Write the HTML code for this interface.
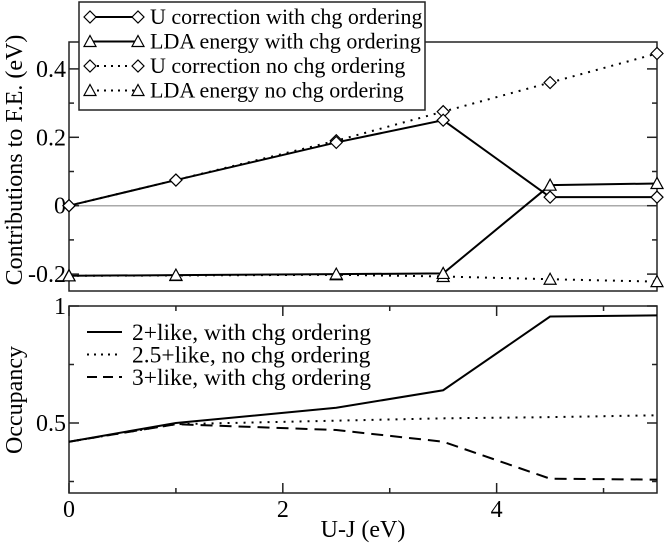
<!DOCTYPE html>
<html><head><meta charset="utf-8"><style>
html,body{margin:0;padding:0;background:#fff}
svg{display:block;font-family:"Liberation Serif",serif}
</style></head><body>
<svg id="chart" width="664" height="544" viewBox="0 0 664 544"></svg>
<script>
const xVals=[0,1,2.5,3.5,4.5,5.5];
const uChg=[0,0.075,0.185,0.25,0.025,0.025];
const ldaChg=[-0.205,-0.203,-0.2,-0.198,0.06,0.065];
const uNo=[0,0.075,0.19,0.275,0.36,0.445];
const ldaNo=[-0.205,-0.204,-0.202,-0.207,-0.215,-0.222];
const occ2=[0.42,0.5,0.565,0.64,0.955,0.96];
const occ25=[0.42,0.495,0.51,0.52,0.525,0.533];
const occ3=[0.42,0.495,0.47,0.42,0.262,0.258];
const xTicks=[0,2,4];
const topTicks=[-0.2,0,0.2,0.4];
const botTicks=[0.5,1];

const NS="http://www.w3.org/2000/svg";
const svg=document.getElementById('chart');
function mk(tag,attrs,parent){const e=document.createElementNS(NS,tag);for(const k in attrs)e.setAttribute(k,attrs[k]);(parent||svg).appendChild(e);return e;}
const L=69,R=657;
const xs=v=>L+(R-L)*v/5.5;
const T0=42,T1=291; const ys1=v=>205.7-v*342;
const B0=306,B1=493; const ys2=v=>306+(1-v)*234;

let z=mk('line',{x1:L,x2:R,y1:ys1(0),y2:ys1(0),stroke:'#aaa','stroke-width':1.5});


function axes(top,bot,ys,majors,minors,name,xt){
  const r=mk('rect',{x:L,y:top,width:R-L,height:bot-top,fill:'none',stroke:'#222','stroke-width':1.5});
  
  majors.forEach(v=>{const y=ys(v);mk('line',{x1:L,x2:L+10,y1:y,y2:y,stroke:'#222','stroke-width':1.5});mk('line',{x1:R,x2:R-10,y1:y,y2:y,stroke:'#222','stroke-width':1.5});
    const t=mk('text',{x:L-3,y:y+8,'text-anchor':'end','font-size':24});t.textContent=String(v);
    });
  minors.forEach(v=>{const y=ys(v);mk('line',{x1:L,x2:L+5,y1:y,y2:y,stroke:'#222','stroke-width':1.5});mk('line',{x1:R,x2:R-5,y1:y,y2:y,stroke:'#222','stroke-width':1.5});});
  if(xt){[0,1,2,3,4,5].forEach(v=>{const x=xs(v),len=v%2?5:10;mk('line',{x1:x,x2:x,y1:bot,y2:bot-len,stroke:'#222','stroke-width':1.5});mk('line',{x1:x,x2:x,y1:top,y2:top+len,stroke:'#222','stroke-width':1.5});});}
}
axes(T0,T1,ys1,topTicks,[-0.1,0.1,0.3],'top-panel',false);
axes(B0,B1,ys2,botTicks,[0.25,0.75],'bottom-panel',true);
xTicks.forEach(v=>{const t=mk('text',{x:xs(v),y:517,'text-anchor':'middle','font-size':24});t.textContent=v;
  });

function line(vals,ys,dash,name){
  const p=mk('polyline',{points:vals.map((v,i)=>xs(xVals[i])+','+ys(v)).join(' '),fill:'none',stroke:'#000','stroke-width':2,'stroke-dasharray':dash||'none'});
  
}
function diamond(x,y,g){mk('path',{d:`M${x-6},${y} L${x},${y-6} L${x+6},${y} L${x},${y+6} Z`,fill:'#fff',stroke:'#000','stroke-width':1.2},g);}
function tri(x,y,g){mk('path',{d:`M${x},${y-6} L${x+6},${y+5} L${x-6},${y+5} Z`,fill:'#fff',stroke:'#000','stroke-width':1.2},g);}
function markers(vals,fn,name){const g=mk('g',{});vals.forEach((v,i)=>fn(xs(xVals[i]),ys1(v),g));}
line(uNo,ys1,'2,6','u-correction-no-chg');
line(ldaNo,ys1,'2,6','lda-energy-no-chg');
line(uChg,ys1,null,'u-correction-chg');
line(ldaChg,ys1,null,'lda-energy-chg');
markers(uNo,diamond,'u-no-markers');markers(ldaNo,tri,'lda-no-markers');
markers(uChg,diamond,'u-chg-markers');markers(ldaChg,tri,'lda-chg-markers');

line(occ25,ys2,'2,6','occ-2.5-like');
line(occ3,ys2,'12,7','occ-3-like');
line(occ2,ys2,null,'occ-2-like');

const lg=mk('g',{});
mk('rect',{x:79,y:2,width:346,height:108,fill:'#fff',stroke:'#222','stroke-width':1.5},lg);
const leg=[['U correction with chg ordering',diamond,null],['LDA energy with chg ordering',tri,null],['U correction no chg ordering',diamond,'2,5'],['LDA energy no chg ordering',tri,'2,5']];
leg.forEach((e,i)=>{const y=17+i*24.5;
  mk('line',{x1:90,x2:138,y1:y,y2:y,stroke:'#000','stroke-width':2,'stroke-dasharray':e[2]||'none'},lg);
  const g=mk('g',{},lg);e[1](90,y,g);e[1](138,y,g);
  const t=mk('text',{x:150,y:y+7,'font-size':22},lg);t.textContent=e[0];
  });

const bl=[['2+like, with chg ordering',null],['2.5+like, no chg ordering','2,5'],['3+like, with chg ordering','10,6']];
bl.forEach((e,i)=>{const y=332+i*22.5;
  const l=mk('line',{x1:87,x2:122,y1:y,y2:y,stroke:'#000','stroke-width':2,'stroke-dasharray':e[1]||'none'});
  
  const t=mk('text',{x:132,y:y+8,'font-size':23.5});t.textContent=e[0];
  });

let t=mk('text',{x:363,y:537,'text-anchor':'middle','font-size':24});t.textContent='U-J (eV)';

t=mk('text',{x:0,y:0,'text-anchor':'middle','font-size':24,transform:'translate(22,160) rotate(-90)'});t.textContent='Contributions to F.E. (eV)';

t=mk('text',{x:0,y:0,'text-anchor':'middle','font-size':24,transform:'translate(22,400) rotate(-90)'});t.textContent='Occupancy';

</script>
</body></html>
